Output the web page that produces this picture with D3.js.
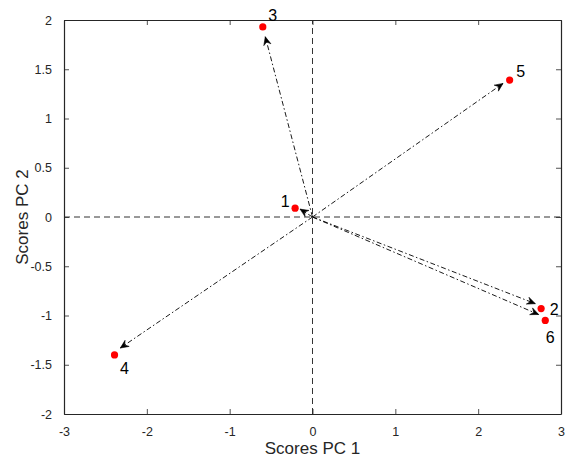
<!DOCTYPE html>
<html><head><meta charset="utf-8">
<script src="https://cdn.jsdelivr.net/npm/d3@7"></script>
<style>body{margin:0;background:#fff}svg{display:block}text{font-family:"Liberation Sans",Arial,sans-serif}</style>
</head><body><svg id="c" width="572" height="460"></svg>
<script>
const labels = ["1","2","3","4","5","6"];
const pc1 = [-0.21, 2.76, -0.60, -2.39, 2.38, 2.81];
const pc2 = [0.09, -0.93, 1.93, -1.40, 1.39, -1.05];
const arrowX = [-0.15, 2.69, -0.57, -2.32, 2.30, 2.73];
const arrowY = [0.08, -0.88, 1.83, -1.33, 1.356, -0.99];
const xTicks = [-3,-2,-1,0,1,2,3];
const yTicks = [-2,-1.5,-1,-0.5,0,0.5,1,1.5,2];
// label offsets (px) for point numbers
const labDx = [-10, 13, 10, 10, 11, 5];
const labDy = [-1, 6, -6, 19, -3, 23];

const svg = d3.select("#c");
const L=64, R=561, T=20, B=414;
const x = d3.scaleLinear().domain([-3,3]).range([L,R]);
const y = d3.scaleLinear().domain([-2,2]).range([B,T]);
const axc = "#262626";

// dashed zero lines
svg.append("line").attr("x1",x(-3)).attr("x2",x(3)).attr("y1",y(0)).attr("y2",y(0))
  .attr("stroke","#333").attr("stroke-width",1).attr("stroke-dasharray","6,4");
svg.append("line").attr("x1",x(0)).attr("x2",x(0)).attr("y1",y(-2)).attr("y2",y(2))
  .attr("stroke","#333").attr("stroke-width",1).attr("stroke-dasharray","6,4");

// axes
const fmt = d => String(d).replace("-", "-");
const gx = svg.append("g").attr("transform",`translate(0,${B})`)
  .call(d3.axisBottom(x).tickValues(xTicks).tickSizeInner(-5).tickSizeOuter(0).tickPadding(13).tickFormat(fmt));
const gx2 = svg.append("g").attr("transform",`translate(0,${T})`)
  .call(d3.axisTop(x).tickValues(xTicks).tickSizeInner(-5).tickSizeOuter(0).tickFormat(""));
const gy = svg.append("g").attr("transform",`translate(${L},0)`)
  .call(d3.axisLeft(y).tickValues(yTicks).tickSizeInner(-5).tickSizeOuter(0).tickPadding(12).tickFormat(fmt));
const gy2 = svg.append("g").attr("transform",`translate(${R},0)`)
  .call(d3.axisRight(y).tickValues(yTicks).tickSizeInner(-5).tickSizeOuter(0).tickFormat(""));
[gx,gx2,gy,gy2].forEach(g=>{
  g.selectAll("path").attr("stroke",axc).attr("stroke-width",1.2);
  g.selectAll("line").attr("stroke",axc).attr("stroke-width",0.8);
  g.selectAll("text").attr("fill",axc).style("font-size","12.5px").style("font-family","Liberation Sans, Arial, sans-serif");
});

// arrows
const data = labels.map((l,i)=>({l, px:pc1[i], py:pc2[i], ax:arrowX[i], ay:arrowY[i], dx:labDx[i], dy:labDy[i]}));
const ag = svg.append("g");
data.forEach(d=>{
  const x0=x(0), y0=y(0), x1=x(d.ax), y1=y(d.ay);
  ag.append("line").attr("x1",x0).attr("y1",y0).attr("x2",x1).attr("y2",y1)
    .attr("stroke","#000").attr("stroke-width",0.9).attr("stroke-dasharray","5,2.5,1.5,2.5");
  const ang = Math.atan2(y1-y0, x1-x0);
  const len = 9, w = 0.42;
  const p1 = [x1 - len*Math.cos(ang-w), y1 - len*Math.sin(ang-w)];
  const p2 = [x1 - len*Math.cos(ang+w), y1 - len*Math.sin(ang+w)];
  const pm = [x1 - len*0.6*Math.cos(ang), y1 - len*0.6*Math.sin(ang)];
  ag.append("path").attr("d",`M${p1}L${x1},${y1}L${p2}L${pm}Z`)
    .attr("fill","#000").attr("stroke","#000").attr("stroke-width",0.6).attr("stroke-linejoin","miter");
});

// points
svg.append("g").selectAll("circle").data(data).join("circle")
  .attr("cx",d=>x(d.px)).attr("cy",d=>y(d.py)).attr("r",3.6).attr("fill","#ff0000");

// point labels
svg.append("g").selectAll("text").data(data).join("text")
  .attr("x",d=>x(d.px)+d.dx).attr("y",d=>y(d.py)+d.dy)
  .attr("text-anchor","middle").style("font-size","16px").attr("fill","#000").text(d=>d.l);

// axis titles
svg.append("text").attr("x",(L+R)/2).attr("y",454).attr("text-anchor","middle")
  .style("font-size","17px").attr("fill",axc).text("Scores PC 1");
svg.append("text").attr("transform",`translate(28,${(T+B)/2}) rotate(-90)`).attr("text-anchor","middle")
  .style("font-size","17px").attr("fill",axc).text("Scores PC 2");
</script></body></html>
